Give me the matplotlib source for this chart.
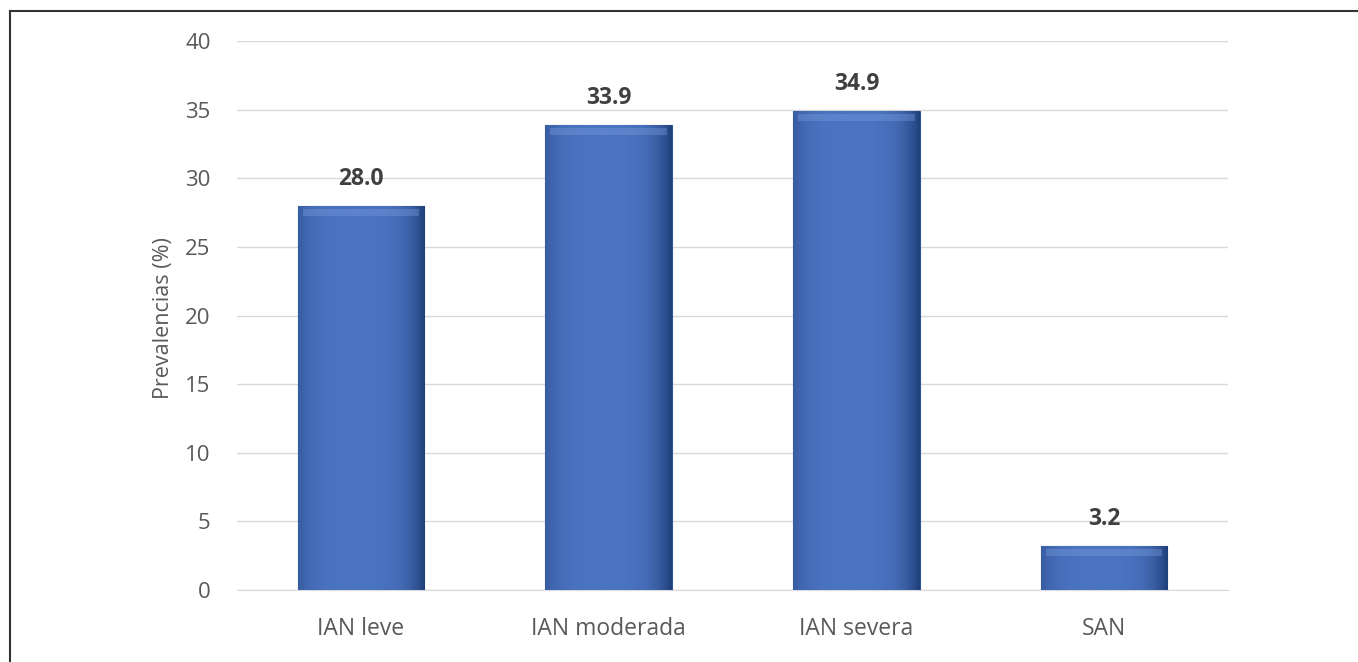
import matplotlib
matplotlib.use("Agg")
import matplotlib.pyplot as plt
import numpy as np
from matplotlib.lines import Line2D
from matplotlib.colors import LinearSegmentedColormap

categories = ["IAN leve", "IAN moderada", "IAN severa", "SAN"]
values = [28.0, 33.9, 34.9, 3.2]
value_labels = ["28.0", "33.9", "34.9", "3.2"]
yticks = [0, 5, 10, 15, 20, 25, 30, 35, 40]

plt.rcParams['font.family'] = ['Open Sans', 'DejaVu Sans']

fig = plt.figure(figsize=(13.58, 6.62), dpi=100)
ax = fig.add_axes([0.1745, 0.1088, 0.7298, 0.8292])

x = np.arange(len(categories))
bars = ax.bar(x, values, width=0.51, color="#4472C4", edgecolor="#2F5597", linewidth=0.8, zorder=3)

# horizontal shading gradient inside each bar
grad = np.linspace(0, 1, 256)
shade = 1 - 0.5 * (np.abs(grad - 0.45) / 0.55) ** 4
cmap = LinearSegmentedColormap.from_list("b", ["#1F3F7A", "#4A73C0"])
for b in bars:
    x0, y0 = b.get_x(), b.get_y()
    w, h = b.get_width(), b.get_height()
    im = ax.imshow(shade[np.newaxis, :], extent=[x0, x0 + w, y0, y0 + h],
                   aspect="auto", cmap=cmap, vmin=0.5, vmax=1.0, zorder=3.5, origin="lower")
    im.set_clip_path(b)
    # soft top highlight
    ax.add_patch(plt.Rectangle((x0 + w * 0.04, y0 + h - 0.75), w * 0.92, 0.5,
                               color="#7FA2E0", alpha=0.35, zorder=3.6, linewidth=0))

for xi, v, lab in zip(x, values, value_labels):
    ax.text(xi, v + 1.95, lab, ha="center", va="center", fontsize=16.5, fontweight="bold",
            color="#404040", zorder=5)

ax.set_xlim(-0.5, 3.5)
ax.set_ylim(0, 40)
ax.set_yticks(yticks)
ax.set_yticklabels([str(t) for t in yticks], fontsize=16, color="#595959")
ax.set_xticks(x)
ax.set_xticklabels(categories, fontsize=16.5, color="#595959")
ax.tick_params(axis="y", length=0, pad=19)
ax.tick_params(axis="x", length=0, pad=19.5)
ax.yaxis.grid(True, color="#D9D9D9", linewidth=1, zorder=0)
ax.set_axisbelow(True)
for s in ["top", "right", "left"]:
    ax.spines[s].set_visible(False)
ax.spines["bottom"].set_color("#D9D9D9")
ax.set_ylabel("Prevalencias (%)", fontsize=15.5, color="#595959")
ax.yaxis.set_label_coords(-0.064, 0.496)

# figure border (top and left)
fig.add_artist(Line2D([10 / 1358, 1], [1 - 11 / 662, 1 - 11 / 662], transform=fig.transFigure,
                      color="#333333", linewidth=1.5))
fig.add_artist(Line2D([10 / 1358, 10 / 1358], [0, 1 - 11 / 662], transform=fig.transFigure,
                      color="#333333", linewidth=1.5))

fig.savefig("out.png", dpi=100)
